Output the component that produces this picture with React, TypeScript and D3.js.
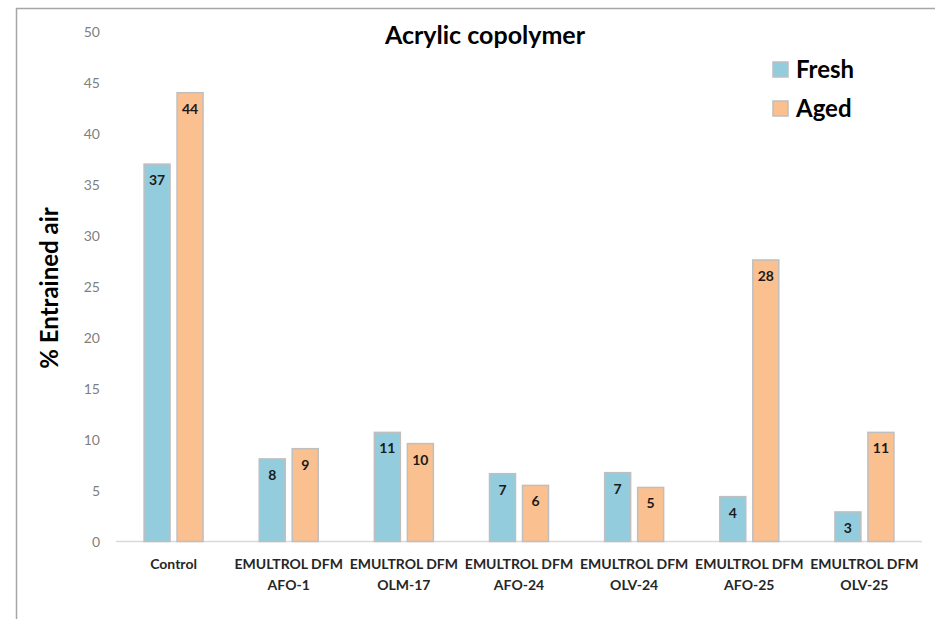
import { useEffect, useRef } from 'react';
import * as d3 from 'd3';

const categories = ['Control', 'EMULTROL DFM\nAFO-1', 'EMULTROL DFM\nOLM-17', 'EMULTROL DFM\nAFO-24', 'EMULTROL DFM\nOLV-24', 'EMULTROL DFM\nAFO-25', 'EMULTROL DFM\nOLV-25'];
const freshValues = [37, 8.1, 10.7, 6.65, 6.75, 4.4, 2.9];
const agedValues = [44, 9.1, 9.6, 5.5, 5.3, 27.6, 10.7];
const yTicks = [0, 5, 10, 15, 20, 25, 30, 35, 40, 45, 50];
const seriesNames = ['Fresh', 'Aged'];

const W = 935;
const H = 619;
const FONT = 'Lato, "Open Sans", sans-serif';
const COLORS = ['#93CDDD', '#FAC090'];

export default function App() {
    const svgRef = useRef<SVGSVGElement>(null);

    useEffect(() => {
        if (!svgRef.current) return;
        const svg = d3.select(svgRef.current);
        svg.selectAll('*').remove();

        // outer frame (only top and left edges visible)
        svg.append('line').attr('x1', 16).attr('x2', W).attr('y1', 8.5).attr('y2', 8.5)
            .attr('stroke', '#a6a6a6').attr('stroke-width', 1.5);
        svg.append('line').attr('x1', 16.5).attr('x2', 16.5).attr('y1', 8).attr('y2', H)
            .attr('stroke', '#a6a6a6').attr('stroke-width', 1.5);

        const x = d3.scaleBand<string>().domain(categories).range([116, 922]);
        const y = d3.scaleLinear().domain([0, 50]).range([541.5, 31.5]);

        const barW = 26;
        const gap = 7;

        // y tick labels
        svg.append('g').selectAll('text').data(yTicks).join('text')
            .attr('x', 100).attr('y', d => y(d))
            .attr('text-anchor', 'end').attr('dominant-baseline', 'central')
            .attr('font-family', FONT).attr('font-size', 14).attr('fill', '#7f7f7f')
            .text(d => d);

        // baseline
        svg.append('line').attr('x1', 116).attr('x2', 922).attr('y1', y(0)).attr('y2', y(0))
            .attr('stroke', '#d9d9d9').attr('stroke-width', 1.5);

        const series = [freshValues, agedValues];
        series.forEach((vals, si) => {
            const g = svg.append('g');
            const xPos = (c: string) => x(c)! + x.bandwidth() / 2 + (si === 0 ? -gap / 2 - barW : gap / 2);
            g.selectAll('rect').data(categories).join('rect')
                .attr('x', c => xPos(c))
                .attr('y', (c, i) => y(vals[i]))
                .attr('width', barW)
                .attr('height', (c, i) => y(0) - y(vals[i]))
                .attr('fill', COLORS[si])
                .attr('stroke', '#bfbfbf').attr('stroke-width', 1.5);
            g.selectAll('text').data(categories).join('text')
                .attr('x', c => xPos(c) + barW / 2)
                .attr('y', (c, i) => y(vals[i]) + 15.5)
                .attr('text-anchor', 'middle').attr('dominant-baseline', 'central')
                .attr('font-family', FONT).attr('font-size', 14).attr('font-weight', 'bold')
                .attr('fill', '#1a1a1a')
                .text((c, i) => Math.round(vals[i]));
        });

        // x labels
        const xl = svg.append('g').selectAll('text').data(categories).join('text')
            .attr('x', c => x(c)! + x.bandwidth() / 2)
            .attr('y', 563)
            .attr('text-anchor', 'middle').attr('dominant-baseline', 'central')
            .attr('font-family', FONT).attr('font-size', 14).attr('font-weight', 'bold')
            .attr('fill', '#262626');
        xl.each(function (c) {
            const t = d3.select(this);
            c.split('\n').forEach((line, li) => {
                t.append('tspan').attr('x', x(c)! + x.bandwidth() / 2)
                    .attr('dy', li === 0 ? 0 : 21).text(line);
            });
        });

        // title
        svg.append('text').attr('x', 485).attr('y', 44)
            .attr('text-anchor', 'middle')
            .attr('font-family', FONT).attr('font-size', 25).attr('font-weight', 'bold')
            .attr('fill', '#000').text('Acrylic copolymer');

        // y axis title
        svg.append('text')
            .attr('transform', `translate(58,288) rotate(-90)`)
            .attr('text-anchor', 'middle')
            .attr('font-family', FONT).attr('font-size', 24).attr('font-weight', 'bold')
            .attr('fill', '#000').text('% Entrained air');

        // legend
        const lg = svg.append('g').selectAll('g').data(seriesNames).join('g')
            .attr('transform', (d, i) => `translate(773,${62 + i * 39})`);
        lg.append('rect').attr('width', 15).attr('height', 15)
            .attr('fill', (d, i) => COLORS[i]).attr('stroke', '#bfbfbf').attr('stroke-width', 1.5);
        lg.append('text').attr('x', 23).attr('y', 16)
            .attr('font-family', FONT).attr('font-size', 24).attr('font-weight', 'bold')
            .attr('fill', '#000').text(d => d);
    }, []);

    return (
        <svg ref={svgRef} width={W} height={H}
            style={{ position: 'absolute', left: 0, top: 0, background: '#fff' }} />
    );
}
